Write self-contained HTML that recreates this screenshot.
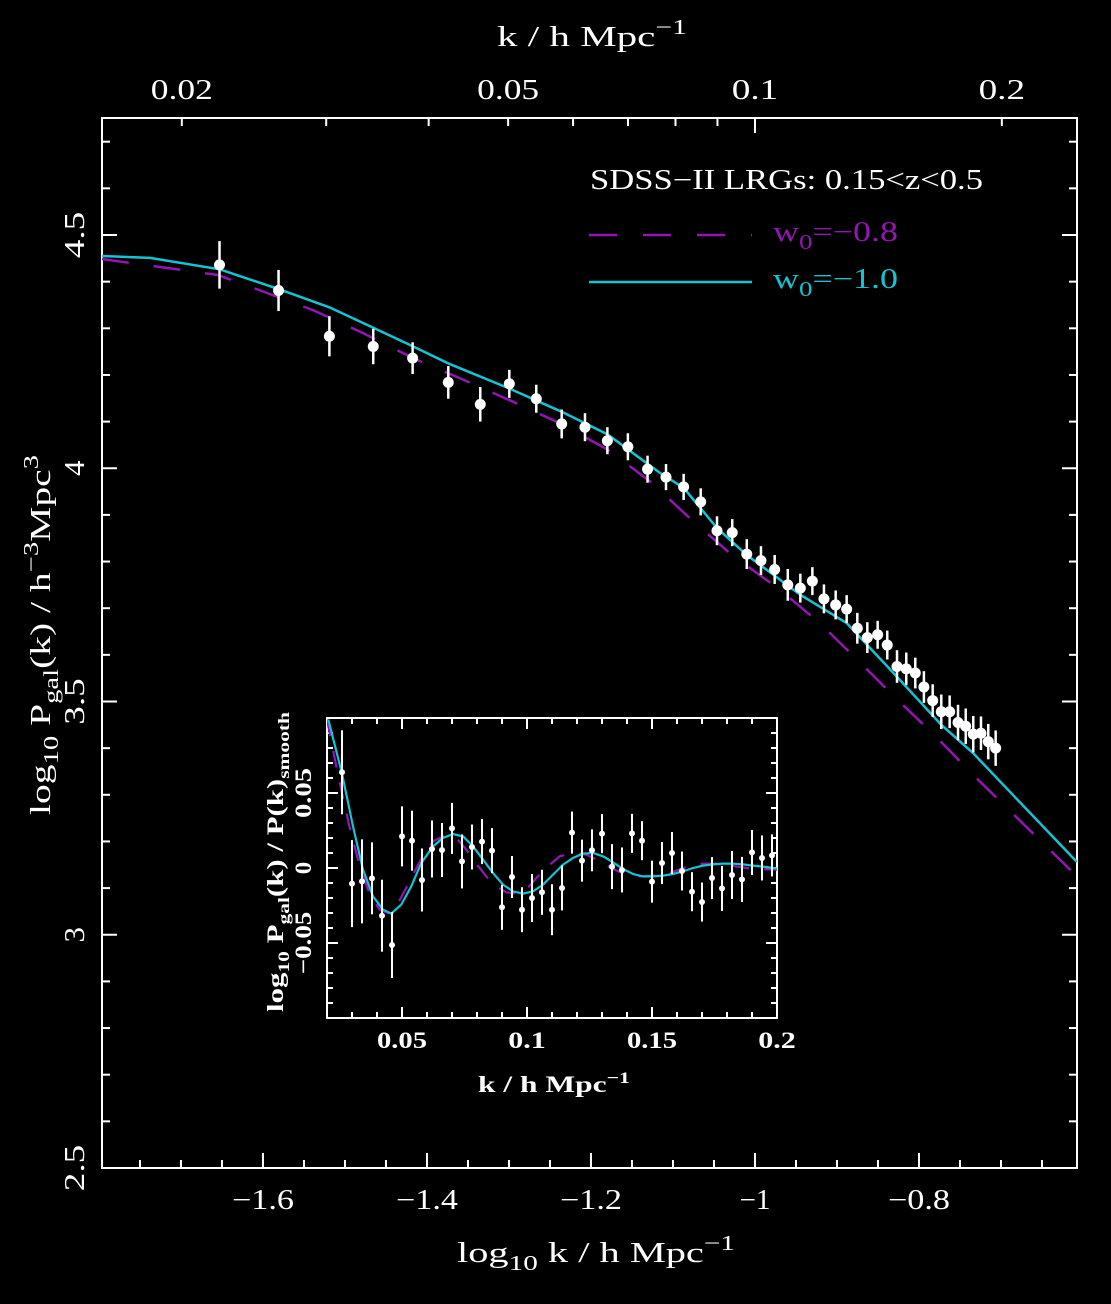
<!DOCTYPE html>
<html><head><meta charset="utf-8"><style>
html,body{margin:0;padding:0;background:#000;}
svg{display:block;}
text{fill:#fff;font-family:"Liberation Serif",serif;}
</style></head><body>
<svg id="chart" width="1111" height="1304" viewBox="0 0 1111 1304" xmlns="http://www.w3.org/2000/svg">
<rect x="0" y="0" width="1111" height="1304" fill="#000"/>
<g id="main"></g>
<g id="inset"></g>
</svg>
<script>
// ---- main panel data ----
const mainLogK=[-1.653,-1.581,-1.519,-1.4655,-1.4175,-1.374,-1.335,-1.2996,-1.2667,-1.2357,-1.2073,-1.180,-1.155,-1.131,-1.1085,-1.087,-1.0662,-1.0463,-1.0277,-1.01,-0.9927,-0.976,-0.960,-0.9447,-0.930,-0.9159,-0.9016,-0.8882,-0.8752,-0.863,-0.8504,-0.8387,-0.8268,-0.8155,-0.8045,-0.794,-0.7833,-0.7728,-0.7626,-0.7524,-0.743,-0.7338,-0.7244,-0.7155,-0.7065];
const mainLogP=[4.436,4.381,4.283,4.261,4.236,4.184,4.137,4.181,4.149,4.095,4.088,4.059,4.046,3.998,3.981,3.960,3.928,3.866,3.862,3.816,3.802,3.783,3.750,3.743,3.758,3.720,3.707,3.698,3.657,3.637,3.643,3.621,3.575,3.570,3.561,3.531,3.502,3.478,3.478,3.455,3.447,3.430,3.432,3.414,3.400];
const mainErr=[0.051,0.044,0.043,0.038,0.034,0.035,0.037,0.030,0.030,0.031,0.030,0.029,0.029,0.029,0.028,0.028,0.029,0.031,0.029,0.032,0.031,0.031,0.034,0.031,0.030,0.031,0.031,0.030,0.033,0.033,0.030,0.031,0.035,0.035,0.033,0.034,0.035,0.037,0.035,0.038,0.038,0.039,0.036,0.038,0.038];
const modelW10K=[-1.7963,-1.7378,-1.6528,-1.5809,-1.5191,-1.4655,-1.4167,-1.3744,-1.2996,-1.2357,-1.1801,-1.1159,-1.087,-1.0463,-1.0101,-0.9448,-0.8882,-0.8268,-0.7728,-0.7338,-0.6931,-0.6073];
const modelW10P=[4.455,4.451,4.4265,4.384,4.345,4.301,4.261,4.225,4.171,4.121,4.073,3.990,3.958,3.872,3.814,3.729,3.668,3.553,3.450,3.389,3.314,3.156];
const modelW08K=[-1.7963,-1.6549,-1.6016,-1.5394,-1.4789,-1.4167,-1.3577,-1.2979,-1.2378,-1.1789,-1.126,-1.0772,-1.0272,-0.9735,-0.922,-0.874,-0.8272,-0.7793,-0.7317,-0.6073];
const modelW08P=[4.4486,4.4143,4.380,4.3392,4.2906,4.2357,4.1913,4.1448,4.0963,4.0391,3.969,3.889,3.8125,3.7448,3.670,3.5875,3.5054,3.4245,3.3388,3.125];
const xTickLabels=["-1.6","-1.4","-1.2","-1","-0.8"];
const yTickLabels=["2.5","3","3.5","4","4.5"];
const topTickLabels=["0.02","0.05","0.1","0.2"];
// ---- inset data ----
const insetK=[0.026,0.030,0.034,0.038,0.042,0.046,0.050,0.054,0.058,0.062,0.066,0.070,0.074,0.078,0.082,0.086,0.090,0.094,0.098,0.102,0.106,0.110,0.114,0.118,0.122,0.126,0.130,0.134,0.138,0.142,0.146,0.150,0.154,0.158,0.162,0.166,0.170,0.174,0.178,0.182,0.186,0.190,0.194,0.198];
const insetV=[0.0638,-0.0104,-0.0089,-0.0069,-0.0318,-0.0513,0.0211,0.0182,-0.008,0.0127,0.012,0.0264,0.0044,0.014,0.0176,0.0116,-0.0262,-0.006,-0.0278,-0.02,-0.0162,-0.0278,-0.0133,0.0236,0.0049,0.0118,0.0229,0.0009,-0.0013,0.0231,0.0182,-0.0091,0.0033,0.01,-0.002,-0.0158,-0.0227,-0.0067,-0.0136,-0.0047,-0.0076,0.0104,0.0067,0.0084];
const insetErr=[0.028,0.029,0.028,0.024,0.024,0.022,0.020,0.020,0.021,0.019,0.018,0.017,0.018,0.015,0.015,0.015,0.015,0.014,0.015,0.016,0.015,0.017,0.015,0.014,0.014,0.014,0.013,0.015,0.015,0.013,0.013,0.014,0.014,0.014,0.013,0.013,0.013,0.014,0.015,0.016,0.015,0.015,0.015,0.014];
const insW10K=[0.0205,0.026,0.0304,0.0344,0.0384,0.0424,0.0457,0.0497,0.0537,0.0577,0.0624,0.0664,0.0704,0.0744,0.0784,0.0824,0.0864,0.0904,0.0944,0.0984,0.1024,0.1064,0.1104,0.1144,0.1184,0.1224,0.1264,0.1304,0.1344,0.1384,0.1424,0.1464,0.1504,0.1544,0.1584,0.1624,0.1664,0.1704,0.1744,0.1784,0.1824,0.1864,0.1904,0.1957,0.2];
const insW10V=[0.099,0.063,0.0278,-0.0011,-0.0189,-0.0278,-0.0304,-0.0244,-0.0122,0.0033,0.0144,0.02,0.0227,0.0211,0.0144,0.0056,-0.0033,-0.0111,-0.0156,-0.0171,-0.0156,-0.0111,-0.0044,0.0022,0.0067,0.0096,0.01,0.0078,0.0038,-0.0007,-0.004,-0.0056,-0.0056,-0.0051,-0.004,-0.0022,0,0.0016,0.0024,0.0029,0.0029,0.0024,0.0016,0.0007,-0.0004];
const insW08K=[0.02,0.0244,0.0291,0.0331,0.0371,0.0411,0.0444,0.0477,0.0524,0.0571,0.0624,0.0671,0.0717,0.0757,0.0797,0.0837,0.0877,0.0917,0.0957,0.0997,0.1037,0.1091,0.1131,0.1184,0.1237,0.1291,0.1344,0.1397,0.1451,0.1504,0.1571,0.1637,0.1704,0.1771,0.1837,0.1904,0.2];
const insW08V=[0.099,0.0622,0.0267,0.0011,-0.0178,-0.0278,-0.03,-0.0256,-0.0111,0.0044,0.0178,0.0216,0.02,0.0122,0.0029,-0.0056,-0.0122,-0.0162,-0.0171,-0.0144,-0.0067,0.0022,0.0078,0.01,0.0089,0.0044,-0.0007,-0.0044,-0.0056,-0.0051,-0.0033,0.0007,0.0029,0.0029,0.0011,-0.0007,-0.0011];
const insXTickLabels=["0.05","0.1","0.15","0.2"];
const insYTickLabels=["-0.05","0","0.05"];

const NS="http://www.w3.org/2000/svg";
const PURPLE="#9414b4", CYAN="#14c4d4";
function mk(parent,tag,attrs){const e=document.createElementNS(NS,tag);for(const k in attrs)e.setAttribute(k,attrs[k]);parent.appendChild(e);return e;}

// main axes
const L=102,R=1077,T=118,B=1168;
const XMIN=-1.7963,XMAX=-0.6073,YMIN=2.5,YMAX=4.7508;
const sx=v=>L+(v-XMIN)/(XMAX-XMIN)*(R-L);
const sy=v=>B-(v-YMIN)/(YMAX-YMIN)*(B-T);
const main=document.getElementById('main');

const frame=mk(main,'rect',{x:L,y:T,width:R-L,height:B-T,fill:'none',stroke:'#fff','stroke-width':2});



for(let i=0;i<=24;i++){const v=-1.8+i*0.05;if(v<XMIN||v>XMAX)continue;const maj=Math.abs(Math.round(v*5)-v*5)<1e-6;const x=sx(v);
 const t=mk(main,'line',{x1:x,x2:x,y1:B,y2:B-(maj?15:8),stroke:'#fff','stroke-width':2});
 
 }
xTickLabels.forEach(s=>{const v=parseFloat(s);const t=mk(main,'text',{x:sx(v),y:1209,'text-anchor':'middle','font-size':28,textLength:s.length*15.5,lengthAdjust:'spacingAndGlyphs'});t.textContent=s.replace('-','\u2212');
 
 });
for(let i=0;i<=23;i++){const v=2.5+i*0.1;if(v>YMAX)continue;const maj=Math.abs(Math.round(v*2)-v*2)<1e-6;const y=sy(v);
 const t1=mk(main,'line',{x1:L,x2:L+(maj?15:8),y1:y,y2:y,stroke:'#fff','stroke-width':2});
 
 
 const t2=mk(main,'line',{x1:R,x2:R-(maj?15:8),y1:y,y2:y,stroke:'#fff','stroke-width':2});
 
 }
yTickLabels.forEach(s=>{const v=parseFloat(s);const y=sy(v);const t=mk(main,'text',{x:0,y:0,'text-anchor':'middle','font-size':28,textLength:s.length*15.5,lengthAdjust:'spacingAndGlyphs',transform:`translate(84,${y}) rotate(-90)`});t.textContent=s;
 
 });
[0.02,0.03,0.04,0.05,0.06,0.07,0.08,0.09,0.1,0.2].forEach(k=>{const x=sx(Math.log10(k));const maj=(k===0.1);
 const t=mk(main,'line',{x1:x,x2:x,y1:T,y2:T+(maj?15:8),stroke:'#fff','stroke-width':2});
 
 });
topTickLabels.forEach(s=>{const x=sx(Math.log10(parseFloat(s)));const t=mk(main,'text',{x:x,y:99,'text-anchor':'middle','font-size':28,textLength:s.length*15.5,lengthAdjust:'spacingAndGlyphs'});t.textContent=s;
 
 });

let tt=mk(main,'text',{x:592,y:46,'text-anchor':'middle','font-size':29,textLength:190,lengthAdjust:'spacingAndGlyphs'});
tt.innerHTML='k / h Mpc<tspan dy="-12" font-size="21">\u22121</tspan>';


let xt=mk(main,'text',{x:596,y:1262,'text-anchor':'middle','font-size':29,textLength:278,lengthAdjust:'spacingAndGlyphs'});
xt.innerHTML='log<tspan dy="8" font-size="21">10</tspan><tspan dy="-8"> k / h Mpc</tspan><tspan dy="-12" font-size="21">\u22121</tspan>';


let yt=mk(main,'text',{x:0,y:0,'text-anchor':'middle','font-size':29,textLength:360,lengthAdjust:'spacingAndGlyphs',transform:'translate(50,635) rotate(-90)'});
yt.innerHTML='log<tspan dy="8" font-size="21">10</tspan><tspan dy="-8"> P</tspan><tspan dy="8" font-size="21">gal</tspan><tspan dy="-8">(k) / h</tspan><tspan dy="-12" font-size="21">\u22123</tspan><tspan dy="12">Mpc</tspan><tspan dy="-12" font-size="21">3</tspan>';



function pathFrom(xs,ys,fx,fy){return xs.map((v,i)=>(i?'L':'M')+fx(v).toFixed(1)+','+fy(ys[i]).toFixed(1)).join(' ');}
const clipM=mk(main,'clipPath',{id:'clipMain'});mk(clipM,'rect',{x:L,y:T,width:R-L,height:B-T});
const p08=mk(main,'path',{d:pathFrom(modelW08K,modelW08P,sx,sy),fill:'none',stroke:PURPLE,'stroke-width':2.5,'stroke-dasharray':'27 25','clip-path':'url(#clipMain)'});


const p10=mk(main,'path',{d:pathFrom(modelW10K,modelW10P,sx,sy),fill:'none',stroke:CYAN,'stroke-width':2.5,'clip-path':'url(#clipMain)'});


mainLogK.forEach((k,i)=>{const x=sx(k),y=sy(mainLogP[i]);
 const e=mk(main,'line',{x1:x,x2:x,y1:sy(mainLogP[i]+mainErr[i]),y2:sy(mainLogP[i]-mainErr[i]),stroke:'#fff','stroke-width':2.5});
 
 
 const c=mk(main,'circle',{cx:x,cy:y,r:5.5,fill:'#fff'});
 
 });

let lg=mk(main,'text',{x:590,y:189,'font-size':28,textLength:393,lengthAdjust:'spacingAndGlyphs'});lg.textContent='SDSS\u2212II LRGs:  0.15<z<0.5';


let l1=mk(main,'line',{x1:589,x2:752,y1:235,y2:235,stroke:PURPLE,'stroke-width':2.5,'stroke-dasharray':'28 26'});


let lt1=mk(main,'text',{x:773,y:241,'font-size':28,textLength:125,lengthAdjust:'spacingAndGlyphs',style:'fill:'+PURPLE});lt1.innerHTML='w<tspan dy="8" font-size="21">0</tspan><tspan dy="-8">=\u22120.8</tspan>';


let l2=mk(main,'line',{x1:589,x2:752,y1:282,y2:282,stroke:CYAN,'stroke-width':2.5});


let lt2=mk(main,'text',{x:773,y:288,'font-size':28,textLength:125,lengthAdjust:'spacingAndGlyphs',style:'fill:'+CYAN});lt2.innerHTML='w<tspan dy="8" font-size="21">0</tspan><tspan dy="-8">=\u22121.0</tspan>';



// ---- inset ----
const IL=327,IR=777,IT=718,IB=1018,IXMIN=0.02,IXMAX=0.2,IYMIN=-0.1,IYMAX=0.1;
const ix=v=>IL+(v-IXMIN)/(IXMAX-IXMIN)*(IR-IL);
const iy=v=>IB-(v-IYMIN)/(IYMAX-IYMIN)*(IB-IT);
const ins=document.getElementById('inset');
const bg=mk(ins,'rect',{x:IL,y:IT,width:IR-IL,height:IB-IT,fill:'#000',stroke:'#fff','stroke-width':2});


for(let i=2;i<=20;i++){const v=i*0.01;const x=ix(v);const maj=(i%5===0);
 const a=mk(ins,'line',{x1:x,x2:x,y1:IB,y2:IB-(maj?11:6),stroke:'#fff','stroke-width':2});
 
 
 const b=mk(ins,'line',{x1:x,x2:x,y1:IT,y2:IT+(maj?11:6),stroke:'#fff','stroke-width':2});
 
 }
for(let i=-10;i<=10;i++){const v=i*0.01;const y=iy(v);const maj=(i%5===0);
 const a=mk(ins,'line',{x1:IL,x2:IL+(maj?11:6),y1:y,y2:y,stroke:'#fff','stroke-width':2});
 
 
 const b=mk(ins,'line',{x1:IR,x2:IR-(maj?11:6),y1:y,y2:y,stroke:'#fff','stroke-width':2});
 
 }
insXTickLabels.forEach(s=>{const t=mk(ins,'text',{x:ix(parseFloat(s)),y:1048,'text-anchor':'middle','font-size':23,'font-weight':'bold',textLength:s.length*12.5,lengthAdjust:'spacingAndGlyphs'});t.textContent=s;
 
 });
insYTickLabels.forEach(s=>{const t=mk(ins,'text',{x:0,y:0,'text-anchor':'middle','font-size':23,'font-weight':'bold',textLength:s.length*12.5,lengthAdjust:'spacingAndGlyphs',transform:`translate(311,${iy(parseFloat(s))}) rotate(-90)`});t.textContent=s.replace('-','\u2212');
 
 });
let ixt=mk(ins,'text',{x:554,y:1092,'text-anchor':'middle','font-size':23,'font-weight':'bold',textLength:152,lengthAdjust:'spacingAndGlyphs'});
ixt.innerHTML='k / h Mpc<tspan dy="-9" font-size="16">\u22121</tspan>';


let iyt=mk(ins,'text',{x:0,y:0,'text-anchor':'middle','font-size':23,'font-weight':'bold',textLength:300,lengthAdjust:'spacingAndGlyphs',transform:'translate(283,862) rotate(-90)'});
iyt.innerHTML='log<tspan dy="6" font-size="16">10</tspan><tspan dy="-6"> P</tspan><tspan dy="6" font-size="16">gal</tspan><tspan dy="-6">(k) / P(k)</tspan><tspan dy="6" font-size="16">smooth</tspan>';


const clipI=mk(ins,'clipPath',{id:'clipIns'});mk(clipI,'rect',{x:IL,y:IT,width:IR-IL,height:IB-IT});
const ip08=mk(ins,'path',{d:pathFrom(insW08K,insW08V,ix,iy),fill:'none',stroke:PURPLE,'stroke-width':2.2,'stroke-dasharray':'17 15','clip-path':'url(#clipIns)'});


const ip10=mk(ins,'path',{d:pathFrom(insW10K,insW10V,ix,iy),fill:'none',stroke:CYAN,'stroke-width':2.2,'clip-path':'url(#clipIns)'});


insetK.forEach((k,i)=>{const x=ix(k),y=iy(insetV[i]);
 const e=mk(ins,'line',{x1:x,x2:x,y1:iy(insetV[i]+insetErr[i]),y2:iy(insetV[i]-insetErr[i]),stroke:'#fff','stroke-width':2,'clip-path':'url(#clipIns)'});
 
 
 const c=mk(ins,'circle',{cx:x,cy:y,r:3,fill:'#fff'});
 
 });
</script>
</body></html>
